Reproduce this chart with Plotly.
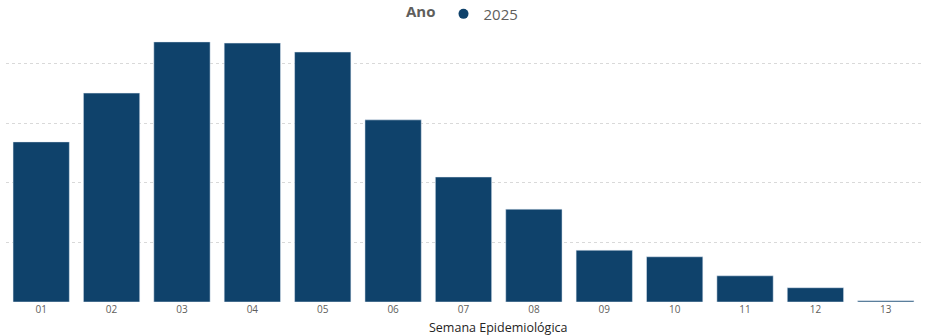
import plotly.graph_objects as go

semanas = ["01", "02", "03", "04", "05", "06", "07", "08", "09", "10", "11", "12", "13"]
casos_2025 = [269, 351, 437, 435, 420, 306, 210, 156, 87, 76, 44, 24, 2]
serie_nome = "2025"
legenda_titulo = "Ano"
eixo_x_titulo = "Semana Epidemiológica"

cor = "#0F426B"

fig = go.Figure()
fig.add_trace(go.Bar(
    x=semanas, y=casos_2025, name=serie_nome, marker_color=cor,
    showlegend=False, hovertemplate="%{x}: %{y}<extra></extra>",
))
fig.add_trace(go.Scatter(
    x=[None], y=[None], mode="markers", name=serie_nome,
    marker=dict(symbol="circle", size=10, color=cor), showlegend=True,
))

fig.update_layout(
    width=931, height=336,
    margin=dict(l=6, r=10, t=30, b=34, autoexpand=False),
    paper_bgcolor="white", plot_bgcolor="white",
    bargap=0.2,
    font=dict(family="Open Sans, DejaVu Sans, sans-serif", color="#605E5C"),
    legend=dict(
        orientation="h", x=0.5, xanchor="center",
        yref="container", y=0.958, yanchor="middle",
        title=dict(text="<b>" + legenda_titulo + "</b>", font=dict(size=15, color="#605E5C")),
        font=dict(size=15, color="#605E5C"),
        itemwidth=30, tracegroupgap=0,
    ),
    xaxis=dict(
        type="category", showgrid=False, showline=False, ticks="",
        tickfont=dict(size=10, color="#605E5C"),
    ),
    yaxis=dict(
        range=[0, 457], dtick=100, showticklabels=False, zeroline=False,
        showgrid=True, gridcolor="#D9D9D9", griddash="dot", gridwidth=1,
    ),
    annotations=[dict(
        text=eixo_x_titulo, xref="paper", yref="paper",
        x=0.538, y=-0.092, xanchor="center", yanchor="middle",
        showarrow=False, font=dict(size=12.5, color="#252423"),
    )],
)

fig.write_html("out.html")
